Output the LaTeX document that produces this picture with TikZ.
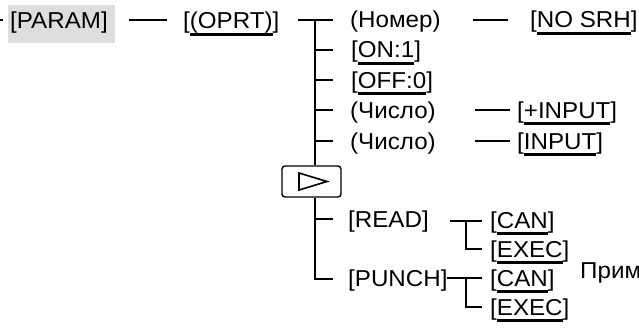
\documentclass[tikz,border=0pt]{standalone}
\usepackage{fontspec}
\setmainfont[FakeStretch=1.05]{Liberation Sans}
\newcommand\myul[1]{\setbox0=\hbox{#1}\rlap{\rule[-7pt]{\wd0}{3pt}}\box0}
\begin{document}
\begin{tikzpicture}[x=1pt,y=-1pt,
  lbl/.style={anchor=base west,inner sep=0pt,font=\fontsize{23}{25}\selectfont},
  conn/.style={line width=1.6pt},
  fwdbox/.style={draw,line width=1.4pt,rounded corners=3pt,minimum width=59pt,minimum height=31pt,inner sep=0pt}]
\useasboundingbox (0,0) rectangle (639,329);
\clip (0,0) rectangle (639,329);
% gray highlight of PARAM
\node[fill=black!13,minimum width=107pt,minimum height=38pt,inner sep=0pt] (parambg) at (61.5,24) {};
\node[lbl] (param) at (10,29) {[PARAM]};
\node[lbl] (oprt) at (183,29) {[\myul{(OPRT)}]};
\node[lbl] (nomer) at (350,28) {(Номер)};
\node[lbl] (nosrh) at (530,28) {[\myul{NO SRH}]};
\node[lbl] (on) at (351,58) {[\myul{ON:1}]};
\node[lbl] (off) at (351,88) {[\myul{OFF:0}]};
\node[lbl] (num1) at (350,118) {(Число)};
\node[lbl] (pinput) at (517,118) {[\myul{+INPUT}]};
\node[lbl] (num2) at (350,149) {(Число)};
\node[lbl] (input) at (517,149) {[\myul{INPUT}]};
\node[fwdbox] (fwd) at (311.5,181.5) {};
\draw[line width=1.6pt,line join=miter] ([shift={(-12.5,-8.5)}]fwd.center) -- ([shift={(15.5,0)}]fwd.center) -- ([shift={(-12.5,8.5)}]fwd.center) -- cycle;
\node[lbl] (read) at (348,227) {[READ]};
\node[lbl] (punch) at (348,286) {[PUNCH]};
\node[lbl] (can1) at (490,228) {[\myul{CAN}]};
\node[lbl] (exec1) at (490,257) {[\myul{EXEC}]};
\node[lbl] (can2) at (490,286) {[\myul{CAN}]};
\node[lbl] (exec2) at (490,315) {[\myul{EXEC}]};
\node[lbl] (note) at (580,278) {Примечание};
% connectors
\coordinate (in) at (0,20);
\coordinate (trunk) at (315,20);
\coordinate (tick) at (333,0);
\coordinate (fork1) at (466,0);
\coordinate (forkend) at (482,0);
\draw[conn] (in) -- ++(3,0);
\draw[conn] (parambg.east |- in) ++(14,0) -- ([xshift=-16pt]oprt.west |- in);
\draw[conn] (298,20) -- (tick |- in);
\draw[conn] (trunk) -- (fwd.north -| trunk);
\draw[conn] (fwd.south -| trunk) -- (trunk |- 0,279) -- (tick |- 0,279);
\foreach \y in {50,80,110,141,219}{\draw[conn] (trunk |- 0,\y) -- (tick |- 0,\y);}
\draw[conn] (473,20) -- (508,20);
\draw[conn] (475,110) -- (510,110);
\draw[conn] (475,141) -- (510,141);
\draw[conn] (450,221) -- (forkend |- 0,221);
\draw[conn] (fork1 |- 0,221) -- (fork1 |- 0,249) -- (forkend |- 0,249);
\draw[conn] (447,278) -- (forkend |- 0,278);
\draw[conn] (fork1 |- 0,278) -- (fork1 |- 0,307) -- (forkend |- 0,307);
\end{tikzpicture}
\end{document}
